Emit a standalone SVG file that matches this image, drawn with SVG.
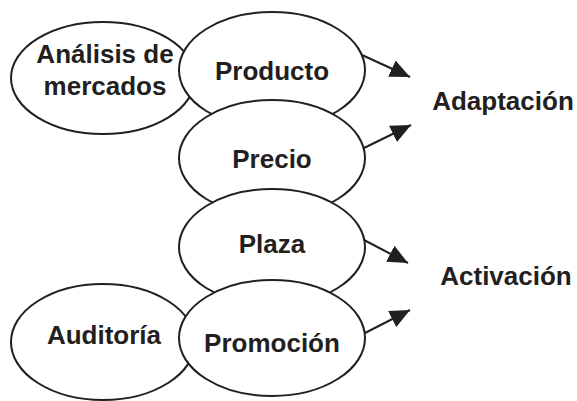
<svg xmlns="http://www.w3.org/2000/svg" width="577" height="401" viewBox="0 0 577 401">
<style>
.n{fill:#fff;stroke:#231f20;stroke-width:2}
.t{font-family:"Liberation Sans",Arial,sans-serif;font-weight:bold;font-size:26px;fill:#231f20;text-anchor:middle}
.c{stroke:#231f20;stroke-width:2;fill:none}
</style>
<defs>
<marker id="a" viewBox="0 0 20 18" refX="20" refY="9" markerWidth="20" markerHeight="18" markerUnits="userSpaceOnUse" orient="auto">
<path d="M0,0 L20,9 L0,18 Z" fill="#231f20"/>
</marker>
</defs>
<g id="analisis"><ellipse class="n" cx="103" cy="78" rx="92" ry="56"/><text class="t" x="105" y="63">Análisis de</text><text class="t" x="105" y="95">mercados</text></g>
<g id="producto"><ellipse class="n" cx="272" cy="70" rx="93" ry="58"/><text class="t" x="272" y="80">Producto</text></g>
<g id="precio"><ellipse class="n" cx="272" cy="158" rx="93" ry="58"/><text class="t" x="272" y="168">Precio</text></g>
<g id="plaza"><ellipse class="n" cx="272" cy="247" rx="93" ry="58"/><text class="t" x="272" y="253">Plaza</text></g>
<g id="auditoria"><ellipse class="n" cx="103" cy="342" rx="92" ry="58"/><text class="t" x="104" y="344">Auditoría</text></g>
<g id="promocion"><ellipse class="n" cx="272" cy="338" rx="93" ry="58"/><text class="t" x="272" y="352">Promoción</text></g>
<g id="adaptacion"><text class="t" x="503" y="110">Adaptación</text></g>
<g id="activacion"><text class="t" x="506" y="285">Activación</text></g>
<g id="connectors">
<line class="c" x1="362" y1="55" x2="410" y2="77" marker-end="url(#a)"/>
<line class="c" x1="364" y1="148" x2="411" y2="125" marker-end="url(#a)"/>
<line class="c" x1="364" y1="240" x2="408" y2="263" marker-end="url(#a)"/>
<line class="c" x1="365" y1="333" x2="410" y2="310" marker-end="url(#a)"/>
</g>
</svg>
